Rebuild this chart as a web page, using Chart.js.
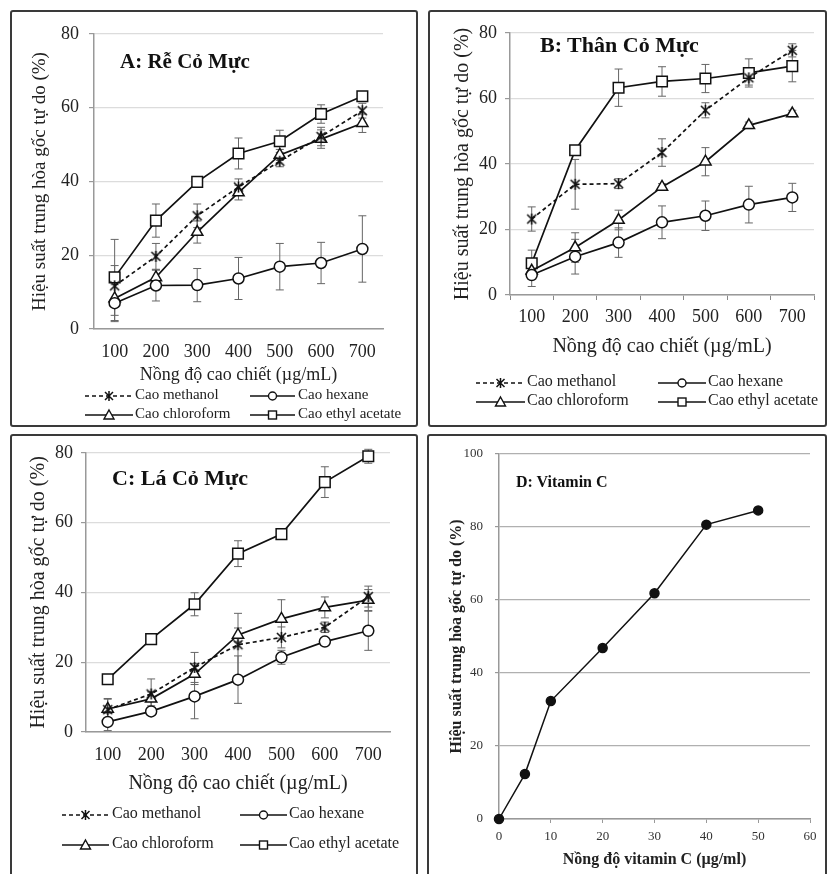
<!DOCTYPE html>
<html>
<head>
<meta charset="utf-8">
<script src="https://cdn.jsdelivr.net/npm/chart.js@4"></script>
<style>
  body { margin:0; width:828px; height:874px; overflow:hidden; background:#fff; position:relative;
         font-family:'Liberation Serif','Times New Roman',serif; color:#222; }
  .box { position:absolute; border:2px solid #3a3a3a; border-radius:3px; box-sizing:border-box; }
  canvas { position:absolute; }
  .ptitle { position:absolute; font-weight:bold; white-space:nowrap; line-height:1; color:#111; }
  .leg { position:absolute; white-space:nowrap; line-height:1; }
  .legsvg { position:absolute; }
</style>
</head>
<body>
<div class="box" style="left:10px;top:10px;width:408px;height:417px"></div>
<div class="box" style="left:428px;top:10px;width:399px;height:417px"></div>
<div class="box" style="left:10px;top:434px;width:408px;height:460px"></div>
<div class="box" style="left:427px;top:434px;width:400px;height:460px"></div>

<canvas id="chartA" width="408" height="417" style="left:10px;top:10px"></canvas>
<canvas id="chartB" width="399" height="417" style="left:428px;top:10px"></canvas>
<canvas id="chartC" width="408" height="450" style="left:10px;top:434px"></canvas>
<canvas id="chartD" width="401" height="450" style="left:427px;top:434px"></canvas>

<script>
// ----- DATA -----
const concentrations = ['100','200','300','400','500','600','700'];
const seriesNames = ['Cao methanol','Cao hexane','Cao chloroform','Cao ethyl acetate'];

// A: Rễ Cỏ Mực
const rootMethanol   = [11.7, 19.7, 30.7, 38.5, 45.5, 52.2, 59.2];
const rootHexane     = [7.0, 11.8, 11.9, 13.7, 16.9, 17.9, 21.7];
const rootChloroform = [8.3, 14.0, 26.3, 37.0, 47.2, 51.5, 55.8];
const rootEthyl      = [14.0, 29.4, 39.9, 47.6, 50.9, 58.3, 63.1];
const rootMethanolErr   = [5.5, 3.5, 3.2, 2.2, 1.5, 2.5, 2.0];
const rootHexaneErr     = [5.0, 4.2, 4.5, 5.7, 6.3, 5.6, 9.0];
const rootChloroformErr = [6.0, 2.0, 3.0, 2.0, 1.5, 2.5, 2.5];
const rootEthylErr      = [10.3, 4.5, 1.0, 4.2, 3.0, 2.5, 1.0];

// B: Thân Cỏ Mực
const stemMethanol   = [23.2, 33.8, 34.0, 43.5, 56.4, 66.3, 74.7];
const stemHexane     = [6.1, 11.7, 16.0, 22.2, 24.2, 27.6, 29.8];
const stemChloroform = [7.4, 14.5, 22.9, 33.0, 40.7, 51.8, 55.4];
const stemEthyl      = [9.7, 44.2, 63.3, 65.2, 66.1, 67.8, 69.9];
const stemMethanolErr   = [3.7, 7.6, 1.5, 4.2, 2.3, 2.2, 2.0];
const stemHexaneErr     = [3.5, 5.3, 4.5, 5.0, 4.5, 5.6, 4.3];
const stemChloroformErr = [1.0, 4.5, 3.0, 1.0, 4.3, 1.0, 1.0];
const stemEthylErr      = [4.0, 1.0, 5.7, 4.5, 4.3, 4.3, 4.8];

// C: Lá Cỏ Mực
const leafMethanol   = [6.4, 10.9, 18.5, 25.0, 27.1, 30.0, 38.8];
const leafHexane     = [2.9, 5.9, 10.2, 15.0, 21.4, 25.9, 29.0];
const leafChloroform = [6.6, 9.5, 16.6, 27.8, 32.4, 35.7, 37.8];
const leafEthyl      = [15.1, 26.6, 36.6, 51.1, 56.7, 71.6, 79.0];
const leafMethanolErr   = [3.0, 4.3, 4.3, 9.0, 3.0, 1.5, 3.0];
const leafHexaneErr     = [2.5, 1.0, 6.4, 6.8, 2.0, 1.0, 5.6];
const leafChloroformErr = [3.0, 2.0, 3.0, 2.0, 5.5, 3.0, 3.0];
const leafEthylErr      = [0.5, 0.5, 3.3, 3.7, 1.5, 4.4, 2.0];

// D: Vitamin C
const vitCConc = [0, 5, 10, 20, 30, 40, 50];
const vitCInhibition = [0, 12.3, 32.3, 46.8, 61.8, 80.6, 84.5];

const yTitle = 'Hiệu suất trung hòa gốc tự do (%)';
const xTitle = 'Nồng độ cao chiết (µg/mL)';
const SERIF = "'Liberation Serif','Times New Roman',serif";

// ----- MARKER -----
function starMarker() {
  const c = document.createElement('canvas');
  c.width = 13; c.height = 13;
  const g = c.getContext('2d');
  g.strokeStyle = '#111'; g.lineWidth = 1.6;
  g.beginPath();
  g.moveTo(2,2); g.lineTo(11,11);
  g.moveTo(11,2); g.lineTo(2,11);
  g.moveTo(6.5,1); g.lineTo(6.5,12);
  g.stroke();
  return c;
}
const starImg = starMarker();

// ----- ERROR BARS -----
const errorBars = {
  id: 'errorBars',
  beforeDatasetsDraw(chart) {
    const ctx = chart.ctx, y = chart.scales.y;
    ctx.save();
    ctx.strokeStyle = '#666';
    ctx.lineWidth = 1;
    chart.data.datasets.forEach((ds, i) => {
      if(!ds.errors) return;
      chart.getDatasetMeta(i).data.forEach((pt, j) => {
        const e = ds.errors[j];
        if(!e) return;
        const top = y.getPixelForValue(ds.data[j] + e);
        const bot = y.getPixelForValue(Math.max(0, ds.data[j] - e));
        ctx.beginPath();
        ctx.moveTo(pt.x, top); ctx.lineTo(pt.x, bot);
        ctx.moveTo(pt.x-4, top); ctx.lineTo(pt.x+4, top);
        ctx.moveTo(pt.x-4, bot); ctx.lineTo(pt.x+4, bot);
        ctx.stroke();
      });
    });
    ctx.restore();
  }
};

function extractSets(m, h, c, e, mErr, hErr, cErr, eErr) {
  const base = {borderColor:'#111', borderWidth:1.7, pointBorderColor:'#111', clip:false,
                pointBackgroundColor:'#fff', pointBorderWidth:1.5, tension:0};
  return [
    Object.assign({}, base, {label:seriesNames[0], data:m, errors:mErr, borderDash:[4,3], pointStyle:starImg, pointRadius:6}),
    Object.assign({}, base, {label:seriesNames[1], data:h, errors:hErr, pointStyle:'circle', pointRadius:5.5}),
    Object.assign({}, base, {label:seriesNames[2], data:c, errors:cErr, pointStyle:'triangle', pointRadius:6.5}),
    Object.assign({}, base, {label:seriesNames[3], data:e, errors:eErr, pointStyle:'rect', pointRadius:7.5})
  ];
}

function extractChart(id, datasets, g) {
  new Chart(document.getElementById(id), {
    type: 'line',
    data: {labels: concentrations, datasets: datasets},
    plugins: [errorBars],
    options: {
      responsive:false, animation:false,
      layout: {padding: g.pad},
      plugins: {legend:{display:false}, tooltip:{enabled:false}},
      scales: {
        x: {
          offset: true,
          afterFit: s => { s.height = g.xHeight; },
          grid: {drawOnChartArea:false, offset:true, drawTicks:g.xTicks, tickLength:5, tickColor:'#888'},
          border: {color:'#999', width:1.5},
          ticks: {color:'#222', padding:g.xTickPad, font:{family:SERIF, size:18}},
          title: {display:true, text:xTitle, color:'#222', padding:{top:0, bottom:g.xTitlePad},
                  font:{family:SERIF, size:g.xTitleSize}}
        },
        y: {
          min:0, max:80,
          afterFit: s => { s.width = g.yWidth; },
          grid: {color:'#dcdcdc', lineWidth:1.2, tickLength:5, tickColor:'#999'},
          border: {color:'#999', width:1.5},
          ticks: {stepSize:20, color:'#222', padding:g.yTickPad, font:{family:SERIF, size:18}},
          title: {display:true, text:yTitle, color:'#222', padding:{top:g.yTitlePad, bottom:0},
                  font:{family:SERIF, size:g.yTitleSize}}
        }
      }
    }
  });
}

extractChart('chartA',
  extractSets(rootMethanol, rootHexane, rootChloroform, rootEthyl,
              rootMethanolErr, rootHexaneErr, rootChloroformErr, rootEthylErr),
  {pad:{left:0, top:24, right:35, bottom:38}, yWidth:84, xHeight:60, xTicks:false,
   xTickPad:12, xTitlePad:3, xTitleSize:18, yTickPad:10, yTitlePad:19, yTitleSize:19});

extractChart('chartB',
  extractSets(stemMethanol, stemHexane, stemChloroform, stemEthyl,
              stemMethanolErr, stemHexaneErr, stemChloroformErr, stemEthylErr),
  {pad:{left:0, top:23, right:13, bottom:62}, yWidth:82, xHeight:70, xTicks:true,
   xTickPad:6, xTitlePad:6, xTitleSize:20, yTickPad:8, yTitlePad:23, yTitleSize:20});

extractChart('chartC',
  extractSets(leafMethanol, leafHexane, leafChloroform, leafEthyl,
              leafMethanolErr, leafHexaneErr, leafChloroformErr, leafEthylErr),
  {pad:{left:0, top:18, right:28, bottom:82}, yWidth:76, xHeight:70, xTicks:false,
   xTickPad:12, xTitlePad:6, xTitleSize:20, yTickPad:8, yTitlePad:17, yTitleSize:20});

// D: vitamin C
new Chart(document.getElementById('chartD'), {
  type: 'scatter',
  data: {datasets: [{
    data: vitCConc.map((x, i) => ({x: x, y: vitCInhibition[i]})),
    showLine:true, borderColor:'#111', borderWidth:1.5, clip:false,
    pointStyle:'circle', pointRadius:4.5, pointBackgroundColor:'#111', pointBorderColor:'#111'
  }]},
  options: {
    responsive:false, animation:false,
    layout: {padding:{left:0, top:17, right:18, bottom:15}},
    plugins: {legend:{display:false}, tooltip:{enabled:false}},
    scales: {
      x: {
        type:'linear', min:0, max:60,
        afterFit: s => { s.height = 50; },
        grid: {drawOnChartArea:false, tickLength:4, tickColor:'#999'},
        border: {color:'#999', width:1.5},
        ticks: {stepSize:10, color:'#333', padding:6, font:{family:SERIF, size:13}},
        title: {display:true, text:'Nồng độ vitamin C (µg/ml)', color:'#222', padding:{top:0, bottom:0},
                font:{family:SERIF, size:16, weight:'bold'}}
      },
      y: {
        min:0, max:100,
        afterFit: s => { s.width = 72; },
        grid: {color:'#b0b0b0', lineWidth:1.2, tickLength:4, tickColor:'#999'},
        border: {color:'#999', width:1.5},
        ticks: {stepSize:20, color:'#333', padding:12, font:{family:SERIF, size:13}},
        title: {display:true, text:yTitle, color:'#222', padding:{top:20, bottom:0},
                font:{family:SERIF, size:16, weight:'bold'}}
      }
    }
  }
});

// ----- PANEL TITLES -----
const panelTitles = [
  {text:'A: Rễ Cỏ Mực', x:120, y:62, size:21},
  {text:'B: Thân Cỏ Mực', x:540, y:45, size:22},
  {text:'C: Lá Cỏ Mực', x:112, y:478, size:22},
  {text:'D: Vitamin C', x:516, y:482, size:16}
];
panelTitles.forEach(t => {
  const d = document.createElement('div');
  d.className = 'ptitle';
  d.textContent = t.text;
  d.style.left = t.x + 'px';
  d.style.top = (t.y - 0.51*t.size) + 'px';
  d.style.fontSize = t.size + 'px';
  document.body.appendChild(d);
});

// ----- LEGENDS -----
const legendLayouts = [
  {size:15, rows:[396,415], cols:[[85,133,135],[250,295,298]]},
  {size:16, rows:[383,402], cols:[[476,525,527],[658,706,708]]},
  {size:16, rows:[815,845], cols:[[62,109,112],[240,287,289]]}
];
const legendMarkers = ['star','circle','triangle','rect'];

function markerSvg(kind, cx, cy) {
  const s = 'stroke="#111" stroke-width="1.4" fill="#fff"';
  if(kind === 'circle') return `<circle cx="${cx}" cy="${cy}" r="4" ${s}/>`;
  if(kind === 'rect') return `<rect x="${cx-4}" y="${cy-4}" width="8" height="8" ${s}/>`;
  if(kind === 'triangle') return `<polygon points="${cx},${cy-5} ${cx+5},${cy+4} ${cx-5},${cy+4}" ${s}/>`;
  return `<path d="M${cx-4},${cy-4}L${cx+4},${cy+4}M${cx+4},${cy-4}L${cx-4},${cy+4}M${cx},${cy-5}L${cx},${cy+5}" stroke="#111" stroke-width="1.5"/>`;
}

legendLayouts.forEach(L => {
  seriesNames.forEach((name, i) => {
    const row = L.rows[Math.floor(i/2)], col = L.cols[i%2];
    const w = col[1] - col[0];
    const dash = i === 0 ? 'stroke-dasharray="4,3"' : '';
    const svg = document.createElement('div');
    svg.className = 'legsvg';
    svg.style.left = col[0] + 'px';
    svg.style.top = (row - 7) + 'px';
    svg.innerHTML = `<svg width="${w}" height="14"><line x1="0" y1="7" x2="${w}" y2="7" stroke="#111" stroke-width="1.6" ${dash}/>${markerSvg(legendMarkers[i], w/2, 7)}</svg>`;
    document.body.appendChild(svg);
    const t = document.createElement('div');
    t.className = 'leg';
    t.textContent = name;
    t.style.left = col[2] + 'px';
    t.style.top = (row - 0.6*L.size) + 'px';
    t.style.fontSize = L.size + 'px';
    document.body.appendChild(t);
  });
});
</script>
</body>
</html>
